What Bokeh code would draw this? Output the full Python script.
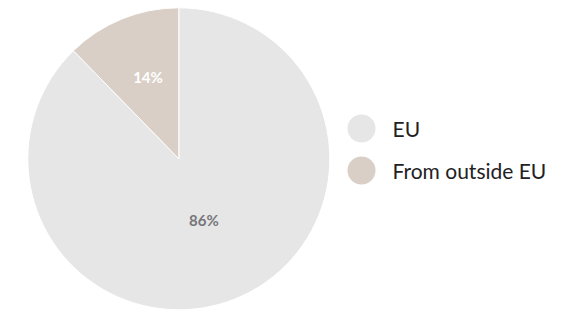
import math
from bokeh.plotting import figure
from bokeh.models import ColumnDataSource, Range1d
from bokeh.core.properties import value
from bokeh.embed import file_html
from bokeh.resources import INLINE

# data (slice shares as drawn, labels as printed)
categories = ["EU", "From outside EU"]
shares = [87.7, 12.3]
pct_labels = ["86%", "14%"]
colors = ["#e6e6e6", "#d9cfc6"]
label_colors = ["#76767a", "#ffffff"]

W, H = 559, 312
p = figure(width=W, height=H, output_backend="svg", toolbar_location=None,
           x_range=Range1d(0, W), y_range=Range1d(0, H), min_border=0,
           background_fill_color="white", border_fill_color="white")
p.axis.visible = False
p.grid.visible = False
p.outline_line_color = None

cx, cy, R = 178.3, 153.7, 151
label_frac = [0.44, 0.585]
label_dx = [0, 2.5]

total = sum(shares)
starts, ends, lx, ly = [], [], [], []
a = math.pi / 2
for i, s in enumerate(shares):
    sweep = 2 * math.pi * s / total
    starts.append(a)
    ends.append(a - sweep)
    mid = a - sweep / 2
    lx.append(cx + R * label_frac[i] * math.cos(mid) + label_dx[i])
    ly.append(cy + R * label_frac[i] * math.sin(mid))
    a -= sweep

src = ColumnDataSource(dict(cat=categories, start=starts, end=ends, color=colors,
                            lx=lx, ly=ly, lab=pct_labels, lcol=label_colors,
                            x=[cx] * 2, y=[cy] * 2))
p.wedge(x="x", y="y", radius=R, start_angle="start", end_angle="end",
        direction="clock", fill_color="color", line_color="white", line_width=1,
        source=src)
p.text(x="lx", y="ly", text="lab", text_color="lcol", text_font=value("Lato"),
       text_font_size="15px", text_font_style="bold", text_align="center",
       text_baseline="middle", source=src)

# legend
leg = ColumnDataSource(dict(x=[361, 361], y=[184, 142], tx=[392, 392],
                            cat=categories, color=colors))
p.scatter(x="x", y="y", size=28, marker="circle", fill_color="color",
          line_color=None, source=leg)
p.text(x="tx", y="y", text="cat", text_color="#222222", text_font=value("Lato"),
       text_font_size="21px", text_baseline="middle", source=leg)

open("out.html", "w").write(file_html(p, INLINE))
